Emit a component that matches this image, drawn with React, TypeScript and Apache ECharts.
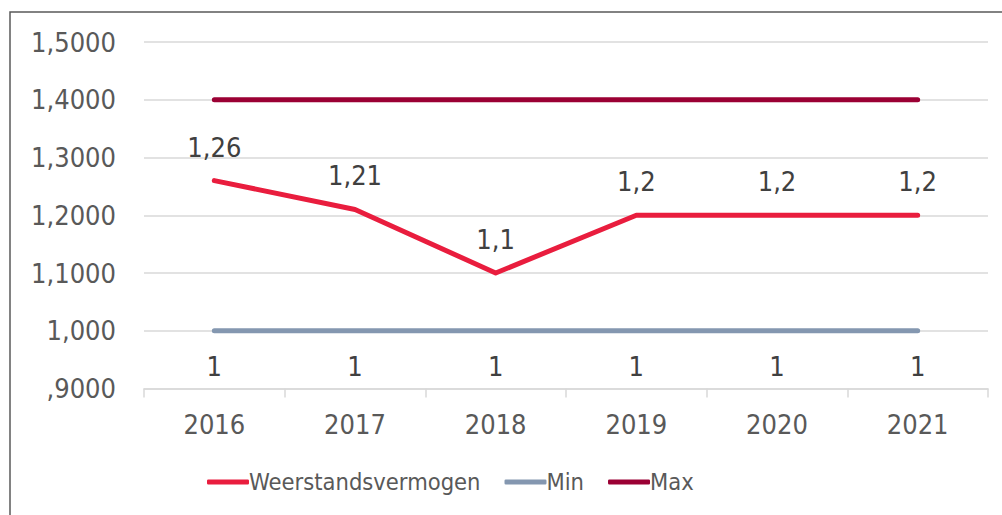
import React, { useEffect, useRef } from "react";
import * as echarts from "echarts";

const categories = ["2016", "2017", "2018", "2019", "2020", "2021"];
const weerstand = [1.26, 1.21, 1.1, 1.2, 1.2, 1.2];
const minValues = [1, 1, 1, 1, 1, 1];
const maxValues = [1.4, 1.4, 1.4, 1.4, 1.4, 1.4];
const yTickLabels = [",9000", "1,000", "1,1000", "1,2000", "1,3000", "1,4000", "1,5000"];
const weerstandLabels = ["1,26", "1,21", "1,1", "1,2", "1,2", "1,2"];
const minLabels = ["1", "1", "1", "1", "1", "1"];

const FONT = "'DejaVu Sans Condensed', 'DejaVu Sans', sans-serif";

export default function App() {
  const ref = useRef<HTMLDivElement>(null);
  useEffect(() => {
    document.body.style.margin = "0";
    const chart = echarts.init(ref.current!, null, { renderer: "svg" });
    chart.setOption({
      animation: false,
      backgroundColor: "#ffffff",
      textStyle: { fontFamily: FONT },
      graphic: [
        {
          type: "rect",
          shape: { x: 10, y: 12, width: 1000, height: 510 },
          style: { fill: "none", stroke: "#595959", lineWidth: 1.5 },
          silent: true,
        },
      ],
      grid: { left: 144, right: 14, top: 42, bottom: 126.5, containLabel: false },
      legend: {
        top: 465,
        left: 202,
        itemWidth: 42,
        itemHeight: 5,
        itemGap: 24,
        textStyle: { fontFamily: FONT, fontSize: 23.5, color: "#595959", padding: [0, 0, 0, -5] },
        data: [
          { name: "Weerstandsvermogen", icon: "roundRect" },
          { name: "Min", icon: "roundRect" },
          { name: "Max", icon: "roundRect" },
        ],
      },
      xAxis: {
        type: "category",
        data: categories,
        boundaryGap: true,
        axisLine: { lineStyle: { color: "#d9d9d9", width: 1.5 } },
        axisTick: { show: true, length: 9, lineStyle: { color: "#d9d9d9", width: 1.5 } },
        axisLabel: { fontFamily: FONT, fontSize: 27, color: "#595959", margin: 22 },
        splitLine: { show: false },
      },
      yAxis: {
        type: "value",
        min: 0.9,
        max: 1.5,
        interval: 0.1,
        axisLine: { show: false },
        axisTick: { show: false },
        axisLabel: {
          fontFamily: FONT,
          fontSize: 27,
          color: "#595959",
          margin: 28,
          formatter: (v: number) => yTickLabels[Math.round((v - 0.9) / 0.1)] ?? "",
        },
        splitLine: { lineStyle: { color: "#d9d9d9", width: 1.5 } },
      },
      series: [
        {
          name: "Weerstandsvermogen",
          type: "line",
          data: weerstand,
          symbol: "circle",
          symbolSize: 0.1,
          showSymbol: true,
          itemStyle: { color: "#e91d3e" },
          lineStyle: { color: "#e91d3e", width: 5, cap: "round", join: "round" },
          label: {
            show: true,
            position: "top",
            distance: 20,
            fontFamily: FONT,
            fontSize: 27,
            color: "#404040",
            formatter: (p: any) => weerstandLabels[p.dataIndex],
          },
          z: 3,
        },
        {
          name: "Min",
          type: "line",
          data: minValues,
          symbol: "circle",
          symbolSize: 0.1,
          showSymbol: true,
          itemStyle: { color: "#8497b0" },
          lineStyle: { color: "#8497b0", width: 5, cap: "round" },
          label: {
            show: true,
            position: "bottom",
            distance: 22,
            fontFamily: FONT,
            fontSize: 27,
            color: "#404040",
            formatter: (p: any) => minLabels[p.dataIndex],
          },
          z: 2,
        },
        {
          name: "Max",
          type: "line",
          data: maxValues,
          symbol: "none",
          itemStyle: { color: "#9b0034" },
          lineStyle: { color: "#9b0034", width: 5, cap: "round" },
          label: { show: false },
          z: 2,
        },
      ],
    });
    return () => chart.dispose();
  }, []);
  return <div ref={ref} style={{ width: 1002, height: 515 }} />;
}
